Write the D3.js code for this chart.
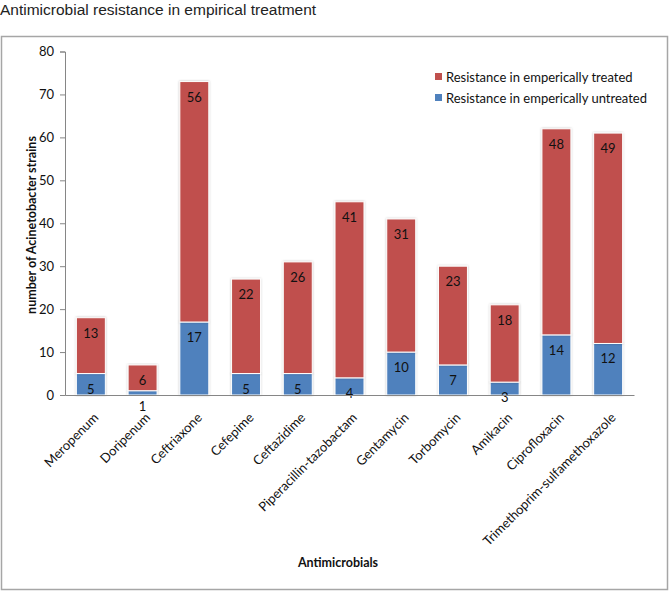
<!DOCTYPE html>
<html>
<head>
<meta charset="utf-8">
<script src="https://cdn.jsdelivr.net/npm/d3@7"></script>
<style>
  html, body { margin: 0; padding: 0; background: #fff; }
  svg { display: block; }
</style>
</head>
<body>
<svg id="chart" width="672" height="592"></svg>
<script>
const categories = ["Meropenum", "Doripenum", "Ceftriaxone", "Cefepime", "Ceftazidime",
  "Piperacillin-tazobactam", "Gentamycin", "Torbomycin", "Amikacin", "Ciprofloxacin",
  "Trimethoprim-sulfamethoxazole"];
const untreated = [5, 1, 17, 5, 5, 4, 10, 7, 3, 14, 12];
const treated = [13, 6, 56, 22, 26, 41, 31, 23, 18, 48, 49];
const yTicks = [0, 10, 20, 30, 40, 50, 60, 70, 80];
const seriesNames = ["Resistance in emperically treated", "Resistance in emperically untreated"];

const colors = { untreated: "#4F81BD", treated: "#C0504D" };
const font = "Lato, 'Open Sans', sans-serif";

const svg = d3.select("#chart");

// shadow filter
const defs = svg.append("defs");
const f = defs.append("filter").attr("id", "sh").attr("x", "-20%").attr("y", "-5%").attr("width", "140%").attr("height", "110%");
f.append("feDropShadow").attr("dx", 0).attr("dy", 0).attr("stdDeviation", 1.2).attr("flood-color", "#000").attr("flood-opacity", 0.25);

// title
svg.append("text").attr("x", 0).attr("y", 15)
  .attr("font-family", "'Liberation Sans', Arial, sans-serif").attr("font-size", 15.5)
  .attr("fill", "#222").text("Antimicrobial resistance in empirical treatment");

// frame
svg.append("rect").attr("x", 1.5).attr("y", 36.5).attr("width", 666).attr("height", 553)
  .attr("fill", "none").attr("stroke", "#a6a6a6").attr("stroke-width", 1.5);

const x0 = 65, x1 = 634, yTop = 51.5, yBot = 395;
const x = d3.scaleBand().domain(categories).range([x0, x1]).paddingInner(0.44).paddingOuter(0.22);
const y = d3.scaleLinear().domain([0, 80]).range([yBot, yTop]);

const data = categories.map((c, i) => ({ c, u: untreated[i], t: treated[i] }));
const stack = d3.stack().keys(["u", "t"])(data);

const g = svg.append("g");
stack.forEach((layer, li) => {
  const key = layer.key;
  g.selectAll(null).data(layer).join("rect")
    .attr("x", d => x(d.data.c))
    .attr("width", x.bandwidth())
    .attr("y", d => y(d[1]))
    .attr("height", d => y(d[0]) - y(d[1]))
    .attr("fill", key === "u" ? colors.untreated : colors.treated)
    .attr("stroke", "#fff").attr("stroke-width", 1)
    .attr("filter", "url(#sh)");
});
// labels: inside end
stack.forEach(layer => {
  g.selectAll(null).data(layer).join("text")
    .attr("x", d => x(d.data.c) + x.bandwidth() / 2)
    .attr("y", d => y(d[1]) + 15)
    .attr("text-anchor", "middle").attr("dominant-baseline", "central")
    .attr("font-family", font).attr("font-size", 13).attr("fill", "#111")
    .text(d => d[1] - d[0]);
});

// y axis
const yAxis = d3.axisLeft(y).tickValues(yTicks).tickSize(5).tickPadding(6);
const ya = svg.append("g").attr("transform", `translate(${x0},0)`).call(yAxis);
ya.select(".domain").attr("stroke", "#868686");
ya.selectAll(".tick line").attr("stroke", "#868686");
ya.selectAll(".tick text").attr("font-family", font).attr("font-size", 13).attr("fill", "#111");

// x axis
const xAxis = d3.axisBottom(x).tickSize(0).tickPadding(0).tickSizeOuter(0);
const xa = svg.append("g").attr("transform", `translate(0,${yBot})`).call(xAxis);
xa.select(".domain").attr("stroke", "#868686");
xa.selectAll(".tick text")
  .attr("font-family", font).attr("font-size", 13).attr("fill", "#111")
  .attr("text-anchor", "end")
  .attr("transform", "translate(2,17) rotate(-45)")
  .attr("dy", "0.7em").attr("y", 0);

// axis titles
svg.append("text").attr("x", 338).attr("y", 567).attr("text-anchor", "middle")
  .attr("font-family", font).attr("font-weight", "bold").attr("font-size", 12.5).attr("fill", "#111")
  .text("Antimicrobials");
svg.append("text").attr("transform", "translate(36,225) rotate(-90)").attr("text-anchor", "middle")
  .attr("font-family", font).attr("font-weight", "bold").attr("font-size", 12.5).attr("fill", "#111")
  .text("number of Acinetobacter strains");

// legend
const legColors = [colors.treated, colors.untreated];
const lg = svg.append("g");
seriesNames.forEach((n, i) => {
  const yy = 77 + i * 21;
  lg.append("rect").attr("x", 435).attr("y", yy - 4).attr("width", 7).attr("height", 7).attr("fill", legColors[i]);
  lg.append("text").attr("x", 446).attr("y", yy).attr("dominant-baseline", "central")
    .attr("font-family", font).attr("font-size", 13).attr("fill", "#111").text(n);
});
</script>
</body>
</html>
